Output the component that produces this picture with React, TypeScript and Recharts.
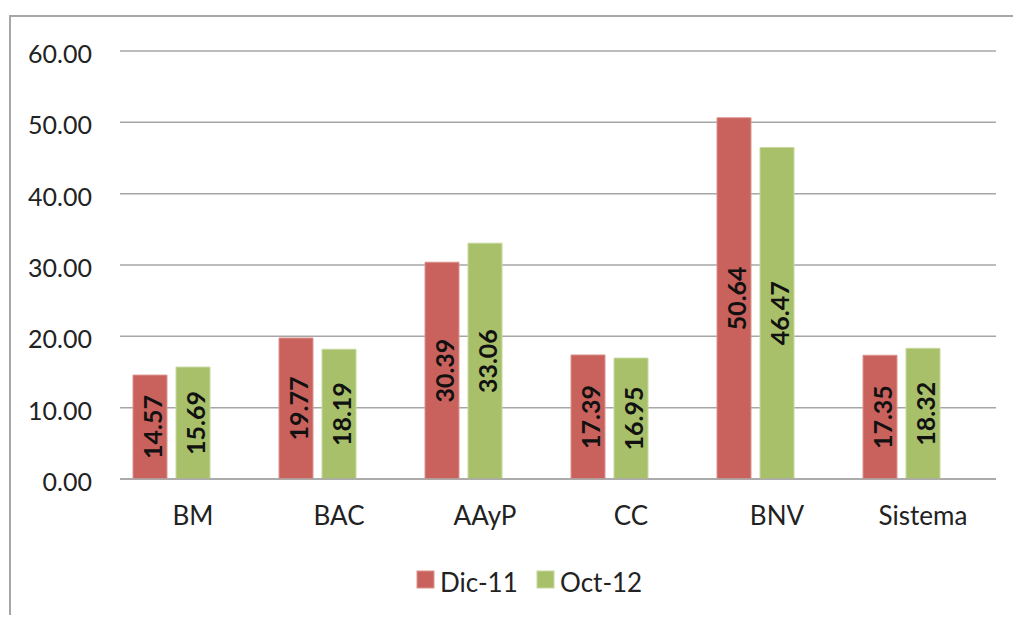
import React from 'react';
import { BarChart, Bar, XAxis, YAxis, CartesianGrid, Legend, LabelList } from 'recharts';

const categories = ['BM', 'BAC', 'AAyP', 'CC', 'BNV', 'Sistema'];
const dic11 = [14.57, 19.77, 30.39, 17.39, 50.64, 17.35];
const oct12 = [15.69, 18.19, 33.06, 16.95, 46.47, 18.32];
const yTicks = [0, 10, 20, 30, 40, 50, 60];

const RED = '#C9625C';
const GREEN = '#A8C06A';
const RED_EDGE = '#DC948E';
const GREEN_EDGE = '#C6D89E';
const GRID = '#A6A6A6';
const FONT = 'Lato, "Open Sans", sans-serif';

const data = categories.map((c, i) => ({ cat: c, dic: dic11[i], oct: oct12[i] }));

const YTick = (props: any) => {
  const { x, y, payload } = props;
  return (
    <text x={x - 28} y={y + 12} textAnchor="end" fontFamily={FONT} fontSize={25} fill="#222">
      {Number(payload.value).toFixed(2)}
    </text>
  );
};

const XTick = (props: any) => {
  const { x, y, payload } = props;
  return (
    <text x={x} y={y + 46} textAnchor="middle" fontFamily={FONT} fontSize={26} fill="#222">
      {payload.value}
    </text>
  );
};

const BarLabel = (props: any) => {
  const { x, y, width, height, value } = props;
  if (value == null) return null;
  const cx = x + width / 2 + 2;
  const cy = y + height / 2;
  return (
    <text
      x={cx}
      y={cy}
      transform={`rotate(-90 ${cx} ${cy})`}
      textAnchor="middle"
      dominantBaseline="central"
      fontFamily={FONT}
      fontWeight="bold"
      fontSize={25}
      fill="#111"
    >
      {Number(value).toFixed(2)}
    </text>
  );
};

const LegendContent = () => (
  <svg width={260} height={44}>
    <rect x={7} y={11} width={17} height={17} fill={RED} stroke={RED_EDGE} strokeWidth={1} />
    <text x={30} y={32} fontFamily={FONT} fontSize={26} fill="#222">Dic-11</text>
    <rect x={127} y={11} width={17} height={17} fill={GREEN} stroke={GREEN_EDGE} strokeWidth={1} />
    <text x={150} y={32} fontFamily={FONT} fontSize={26} fill="#222">Oct-12</text>
  </svg>
);

export default function App() {
  return (
    <div style={{ position: 'relative', width: 1021, height: 623, margin: -8, overflow: 'hidden', background: '#fff' }}>
      <div style={{ position: 'absolute', left: 9, top: 15, width: 1012, height: 2, background: GRID }} />
      <div style={{ position: 'absolute', left: 9, top: 15, width: 2, height: 608, background: GRID }} />
      <div style={{ position: 'absolute', left: 0, top: 0 }}>
        <BarChart
          width={1021}
          height={623}
          data={data}
          margin={{ top: 51, right: 25, bottom: 114, left: 20 }}
          barCategoryGap={13}
          barGap={9}
        >
          <CartesianGrid vertical={false} stroke={GRID} strokeWidth={1.5} />
          <XAxis
            dataKey="cat"
            height={30}
            tickLine={false}
            tickSize={0}
            tickMargin={0}
            axisLine={{ stroke: GRID, strokeWidth: 1.5 }}
            tick={<XTick />}
            interval={0}
          />
          <YAxis
            width={100}
            domain={[0, 60]}
            ticks={yTicks}
            axisLine={false}
            tickLine={false}
            tickSize={0}
            tickMargin={0}
            tick={<YTick />}
            interval={0}
          />
          <Legend
            layout="horizontal"
            verticalAlign="middle"
            align="center"
            content={<LegendContent />}
            wrapperStyle={{ left: 410, top: 560, width: 260, height: 44 }}
          />
          <Bar dataKey="dic" name="Dic-11" fill={RED} stroke={RED_EDGE} strokeWidth={1} isAnimationActive={false}>
            <LabelList dataKey="dic" content={<BarLabel />} />
          </Bar>
          <Bar dataKey="oct" name="Oct-12" fill={GREEN} stroke={GREEN_EDGE} strokeWidth={1} isAnimationActive={false}>
            <LabelList dataKey="oct" content={<BarLabel />} />
          </Bar>
          <Bar dataKey="none" legendType="none" fill="transparent" isAnimationActive={false} />
        </BarChart>
      </div>
    </div>
  );
}
